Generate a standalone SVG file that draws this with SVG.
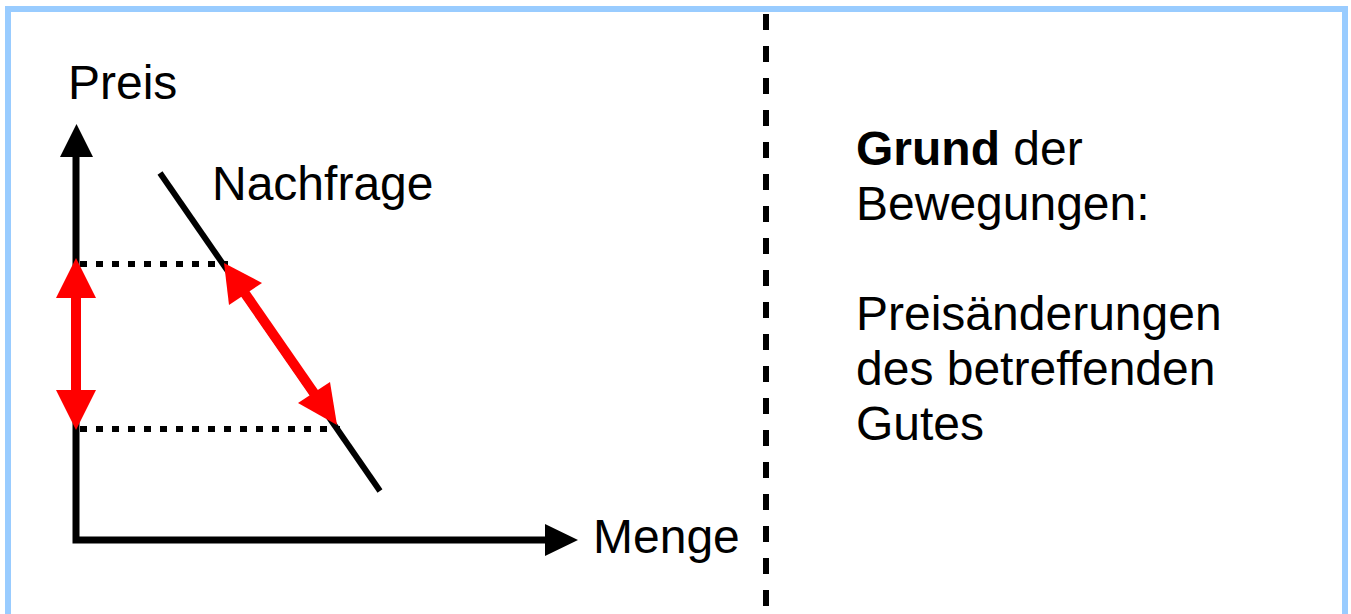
<svg xmlns="http://www.w3.org/2000/svg" width="1351" height="614" viewBox="0 0 1351 614">
<defs>
<style>
.t{font-family:"Liberation Sans",Arial,sans-serif;font-size:48px;fill:#000}
.b{font-weight:bold}
.ax{stroke:#000;stroke-width:7;fill:none}
.dot{stroke:#000;stroke-width:6;stroke-dasharray:7 9;fill:none}
.red{stroke:#FF0000;stroke-width:10;fill:none}
</style>
</defs>
<rect x="0" y="0" width="1351" height="614" fill="#fff"/>
<rect id="frame" x="8" y="9" width="1337" height="700" fill="#fff" stroke="#99CCFF" stroke-width="6"/>
<g id="divider">
<line x1="766" y1="14" x2="766" y2="614" stroke="#000" stroke-width="6" stroke-dasharray="16 16"/>
</g>
<g id="connectors">
<g id="axes">
<polyline class="ax" points="76,155 76,540 547,540"/>
<polygon points="76.5,124 60,157 93,157" fill="#000"/>
<polygon points="578,540 545,524 545,556" fill="#000"/>
</g>
<g id="guides">
<line class="dot" x1="80" y1="264" x2="228" y2="264"/>
<line class="dot" x1="80" y1="429" x2="340" y2="429"/>
</g>
<g id="demand-line">
<line x1="160" y1="173" x2="380" y2="491" stroke="#000" stroke-width="6"/>
</g>
<g id="price-arrow">
<line class="red" x1="76" y1="295" x2="76" y2="393"/>
<polygon points="76,258 56,298 96,298" fill="#FF0000"/>
<polygon points="76,430 56,390 96,390" fill="#FF0000"/>
</g>
<g id="move-arrow">
<line class="red" x1="244" y1="292" x2="316" y2="396"/>
<polygon points="224,263 262,283 229,305" fill="#FF0000"/>
<polygon points="337,425 298,403 330,382" fill="#FF0000"/>
</g>
</g>
<g id="label-preis"><text class="t" x="68" y="99">Preis</text></g>
<g id="label-nachfrage"><text class="t" x="212" y="200">Nachfrage</text></g>
<g id="label-menge"><text class="t" x="593" y="553">Menge</text></g>
<g id="explanation">
<text class="t" x="856" y="165"><tspan class="b">Grund</tspan> der</text>
<text class="t" x="856" y="220">Bewegungen:</text>
<text class="t" x="856" y="330">Preisänderungen</text>
<text class="t" x="856" y="385">des betreffenden</text>
<text class="t" x="856" y="440">Gutes</text>
</g>
</svg>
